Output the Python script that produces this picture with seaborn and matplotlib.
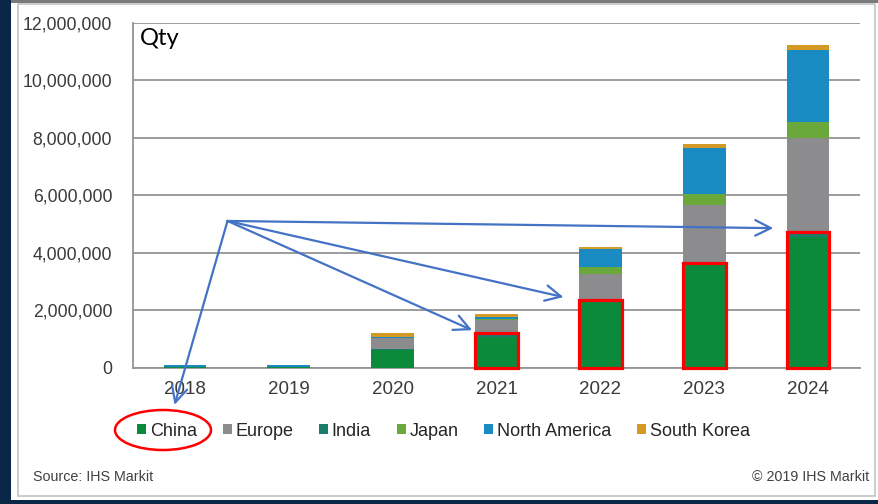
import pandas as pd
import matplotlib.pyplot as plt
import seaborn as sns
from matplotlib.patches import Patch, Rectangle, Ellipse

# data
years = ['2018', '2019', '2020', '2021', '2022', '2023', '2024']
series = ['China', 'Europe', 'India', 'Japan', 'North America', 'South Korea']
china = [5000, 5000, 600000, 1050000, 2300000, 3550000, 4550000]
india = [2000, 2000, 60000, 150000, 60000, 100000, 150000]
europe = [5000, 5000, 350000, 450000, 900000, 2000000, 3300000]
japan = [3000, 3000, 20000, 50000, 250000, 400000, 550000]
north_america = [60000, 60000, 30000, 50000, 600000, 1600000, 2500000]
south_korea = [3000, 3000, 150000, 100000, 80000, 120000, 180000]

# arrows from the blank area to the boxed China bars
arrow_bars = [3, 4, 6]
arrow_dx = [-0.03, -0.15, -0.13]
arrow_dy = [100000, 90000, 150000]

colors = {
    'China': '#0b8a3c',
    'Europe': '#8c8c8e',
    'India': '#1b7d6c',
    'Japan': '#6aa83c',
    'North America': '#1a8bc2',
    'South Korea': '#d39b26',
}

W, H = 879, 504


def fx(px):
    return px / W


def fy(py):
    return 1 - py / H


df = pd.DataFrame({
    'year': years,
    'China': china,
    'India': india,
    'Europe': europe,
    'Japan': japan,
    'North America': north_america,
    'South Korea': south_korea,
})
stack_order = ['China', 'India', 'Europe', 'Japan', 'North America', 'South Korea']
cum = df[stack_order].cumsum(axis=1)

sns.set_style('white')
plt.rcParams['font.family'] = ['Liberation Sans', 'DejaVu Sans']

fig = plt.figure(figsize=(W / 100, H / 100), dpi=100, facecolor='#0b2748')

# white slide panel
fig.patches.append(Rectangle((fx(11), fy(500)), fx(867), 500 / H, transform=fig.transFigure,
                             facecolor='white', edgecolor='none', zorder=-2))
fig.patches.append(Rectangle((fx(18), fy(496)), fx(857), 492 / H, transform=fig.transFigure,
                             facecolor='none', edgecolor='#c4c4c4', lw=1.2, zorder=-1))
fig.patches.append(Rectangle((fx(11), fy(3)), fx(867), 3 / H, transform=fig.transFigure,
                             facecolor='#7a7a7a', edgecolor='none', zorder=-1))

ax = fig.add_axes([fx(133), fy(367.5), fx(727), (367.5 - 22.7) / H])
ax.set_facecolor('none')
ax.set_zorder(2)

# stacked bars: draw cumulative totals from the top series down
for name in reversed(stack_order):
    sns.barplot(x=df['year'], y=cum[name], color=colors[name], width=0.41,
                linewidth=0, saturation=1, ax=ax, zorder=3)

ax.set_ylim(0, 12000000)
ax.set_xlim(-0.5, len(years) - 0.5)
ax.set_yticks(range(0, 12000001, 2000000))
ax.set_yticklabels([f'{v:,}' for v in range(0, 12000001, 2000000)])
ax.grid(axis='y', color='#949494', lw=1.3, zorder=0)
ax.set_axisbelow(True)
ax.set_xlabel('')
ax.set_ylabel('')
for s in ['top', 'right']:
    ax.spines[s].set_visible(False)
for s in ['left', 'bottom']:
    ax.spines[s].set_color('#949494')
    ax.spines[s].set_linewidth(1.3)
ax.tick_params(axis='y', length=7, color='#949494', width=1.3, labelsize=12.7,
               labelcolor='#3a3a3a', pad=8)
ax.tick_params(axis='x', which='major', length=0, labelsize=13.5, labelcolor='#3a3a3a', pad=10)
ax.set_xticks([i - 0.5 for i in range(len(years) + 1)], minor=True)
ax.tick_params(axis='x', which='minor', length=6, color='#949494', width=1.3)

ax.text(0.01, 0.985, 'Qty', transform=ax.transAxes, ha='left', va='top',
        fontsize=17, family=['Lato', 'DejaVu Sans'], color='black')

# red boxes around the China part of 2021-2024
bw = 0.41
for i in range(3, len(years)):
    top = china[i] + india[i]
    ax.add_patch(Rectangle((i - bw / 2, 0), bw, top, facecolor='none',
                           edgecolor='#ff0000', lw=2.3, zorder=5, clip_on=False))

# arrows
arrow_style = dict(arrowstyle='->', color='#4472c4', lw=1.6, mutation_scale=28,
                   shrinkA=0, shrinkB=0)
start = (0.41, 5100000)
for i, dx, dy in zip(arrow_bars, arrow_dx, arrow_dy):
    ax.annotate('', xy=(i - bw / 2 + dx, china[i] + india[i] + dy), xytext=start,
                arrowprops=arrow_style, zorder=6)
ax.annotate('', xy=(-0.1, -1300000), xytext=start, arrowprops=arrow_style,
            annotation_clip=False, zorder=6)

# legend
handles = [Patch(facecolor=colors[n], edgecolor='none', label=n) for n in series]
fig.legend(handles=handles, loc='center left', bbox_to_anchor=(fx(130), fy(431)),
           ncol=6, frameon=False, handlelength=0.5, handleheight=0.5,
           handletextpad=0.2, columnspacing=1.43, borderaxespad=0,
           prop={'size': 13})

fig.patches.append(Ellipse((fx(163), fy(430)), fx(96), 40 / H, transform=fig.transFigure,
                           facecolor='none', edgecolor='#ff0000', lw=1.8, zorder=10))

fig.text(fx(33), fy(477), 'Source: IHS Markit', fontsize=10.3, color='#404040', va='center')
fig.text(fx(869), fy(477), '\u00a9 2019 IHS Markit', fontsize=10.3, color='#404040',
         va='center', ha='right')

plt.savefig('out.png', dpi=100, facecolor=fig.get_facecolor())
plt.close()
